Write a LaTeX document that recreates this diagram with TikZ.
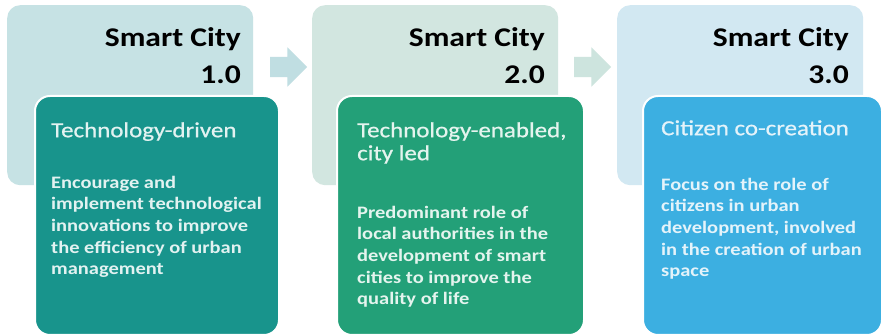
\documentclass[tikz,border=0pt]{standalone}
\usepackage{fontspec}
\setmainfont{Carlito}[FakeStretch=1.17]
\newfontfamily\headfont{Carlito}[FakeStretch=1.16, FakeBold=0.7]
\usetikzlibrary{shapes.arrows}
\definecolor{bgA}{HTML}{C6E2E4}
\definecolor{bgB}{HTML}{D2E6E0}
\definecolor{bgC}{HTML}{D2E8F2}
\definecolor{frA}{HTML}{18948C}
\definecolor{frB}{HTML}{23A078}
\definecolor{frC}{HTML}{3CAFE1}
\definecolor{arA}{HTML}{C0DEE2}
\definecolor{arB}{HTML}{CDE4DE}
\definecolor{txA}{HTML}{E2F2F1}
\definecolor{txB}{HTML}{E4F4EE}
\definecolor{txC}{HTML}{E4F3FA}
\begin{document}
\begin{tikzpicture}[x=1pt,y=-1pt,
  bgbox/.style={rounded corners=13pt, inner sep=0pt, minimum width=246pt, minimum height=180pt, anchor=north west},
  frontbox/.style={rounded corners=15pt, draw=white, line width=2pt, inner sep=0pt, minimum height=239pt, anchor=north west},
  titletxt/.style={font=\bfseries\fontsize{27}{37}\selectfont, anchor=north east, inner sep=0pt, align=right, text=black},
  headtxt/.style={font=\headfont\fontsize{21.5}{23}\selectfont, anchor=north west, inner sep=0pt, align=left},
  bodytxt/.style={font=\bfseries\fontsize{17.5}{21.7}\selectfont, anchor=north west, inner sep=0pt, align=left},
  blockarrow/.style={single arrow, single arrow head extend=9.5pt, single arrow tip angle=90, single arrow head indent=0pt, inner sep=0pt, text height=10pt, text depth=10pt, minimum height=37pt, draw=none}]
\useasboundingbox (0,0) rectangle (881,336);
\fill[white] (0,0) rectangle (881,336);
% background boxes
\node[bgbox, fill=bgA] (bg1) at (7,5) {};
\node[bgbox, fill=bgB] (bg2) at (312,5) {};
\node[bgbox, fill=bgC] (bg3) at (617,5) {};
% arrows
\node[blockarrow, fill=arA] (ar1) at (283.5,67) {};
\node[blockarrow, fill=arB] (ar2) at (587.5,67) {};
% titles
\node[titletxt] (t1) at (241,27) {\rule{0pt}{18pt}Smart City\\1.0};
\node[titletxt] (t2) at (545,27) {\rule{0pt}{18pt}Smart City\\2.0};
\node[titletxt] (t3) at (849,27) {\rule{0pt}{18pt}Smart City\\3.0};
% front boxes
\node[frontbox, fill=frA, minimum width=244pt] (f1) at (34,95) {};
\node[frontbox, fill=frB, minimum width=247pt] (f2) at (336,95) {};
\node[frontbox, fill=frC, minimum width=239pt] (f3) at (642,95) {};
% headings
\node[headtxt, text=txA] (h1) at (51,121) {\rule{0pt}{16pt}Technology-driven};
\node[headtxt, text=txB] (h2) at (357,121) {\rule{0pt}{16pt}Technology-enabled,\\city led};
\node[headtxt, text=txC] (h3) at (661,119) {\rule{0pt}{16pt}Citizen co-creation};
% bodies
\node[bodytxt, text=txA] (b1) at (51,175) {\rule{0pt}{13pt}Encourage and\\implement technological\\innovations to improve\\the efficiency of urban\\management};
\node[bodytxt, text=txB] (b2) at (357,205) {\rule{0pt}{13pt}Predominant role of\\local authorities in the\\development of smart\\cities to improve the\\quality of life};
\node[bodytxt, text=txC] (b3) at (661,177) {\rule{0pt}{13pt}Focus on the role of\\citizens in urban\\development, involved\\in the creation of urban\\space};
\end{tikzpicture}
\end{document}
